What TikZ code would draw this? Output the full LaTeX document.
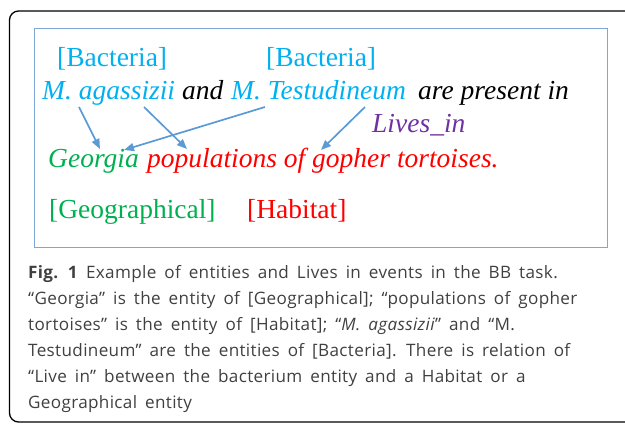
\documentclass[tikz,border=0pt]{standalone}
\usepackage{fontspec}
\setmainfont{Liberation Serif}
\newfontfamily\capfont[LetterSpace=2,WordSpace=1.67]{Open Sans}
\usetikzlibrary{arrows.meta,calc}
\definecolor{bact}{HTML}{00B0F0}
\definecolor{geo}{HTML}{00B050}
\definecolor{hab}{HTML}{FF0000}
\definecolor{rel}{HTML}{7030A0}
\definecolor{arr}{HTML}{5B9BD5}
\definecolor{boxc}{HTML}{7EA6D8}
\definecolor{capc}{HTML}{404040}
\begin{document}
\begin{tikzpicture}[x=1pt,y=-1pt,
  word/.style={inner sep=0pt,anchor=base west,font=\fontsize{27.5}{30}\selectfont},
  capline/.style={inner sep=0pt,anchor=base west,text=capc,font=\capfont\fontsize{17.1}{20}\selectfont},
  link/.style={draw=arr,line width=1.7pt,-{Triangle[length=10pt,width=8pt]}}]
\useasboundingbox (0,0) rectangle (625,425);
\begin{scope}
\clip (0,0) rectangle (625,425);
\draw[line width=1.3pt,rounded corners=9pt] (9.5,11) rectangle (660,422);
\end{scope}
\draw[boxc,line width=0.9pt] (34.5,28) rectangle (607,247);
% labels
\node[word,text=bact] (b1) at (57,67) {[Bacteria]};
\node[word,text=bact] (b2) at (266,67) {[Bacteria]};
% line 2
\node[word,text=bact] (agas) at (42,100) {\itshape M. agassizii};
\node[word] (and) at (182,100) {\itshape and};
\node[word,text=bact] (test) at (231,100) {\itshape M. Testudineum};
\node[word] (are) at (418,100) {\itshape are present in};
\node[word,text=rel] (lives) at (372,133) {\itshape Lives\_in};
% line 3
\node[word,text=geo] (geor) at (48,168) {\itshape Georgia};
\node[word,text=hab] (pop) at (147,168) {\itshape populations of gopher tortoises.};
% types
\node[word,text=geo] (geot) at (49,219) {[Geographical]};
\node[word,text=hab] (habt) at (247,219) {[Habitat]};
% arrows
\draw[link] ($(agas.base west)+(37,7)$) -- ($(geor.base west)+(52,-19)$);
\draw[link] ($(agas.base west)+(102,7)$) -- ($(pop.base west)+(40,-19)$);
\draw[link] ($(test.base west)+(34,7)$) -- ($(geor.base west)+(76,-18)$);
\draw[link] ($(test.base west)+(134,7)$) -- ($(pop.base west)+(174,-18)$);
% caption
\node[capline] (c1) at (28,279) {\textbf{Fig. 1} Example of entities and Lives in events in the BB task.};
\node[capline] (c2) at (28,305) {“Georgia” is the entity of [Geographical]; “populations of gopher};
\node[capline] (c3) at (28,331) {tortoises” is the entity of [Habitat]; “\textit{M. agassizii}” and “M.};
\node[capline] (c4) at (28,356) {Testudineum” are the entities of [Bacteria]. There is relation of};
\node[capline] (c5) at (28,382) {“Live in” between the bacterium entity and a Habitat or a};
\node[capline] (c6) at (28,408) {Geographical entity};
\end{tikzpicture}
\end{document}
